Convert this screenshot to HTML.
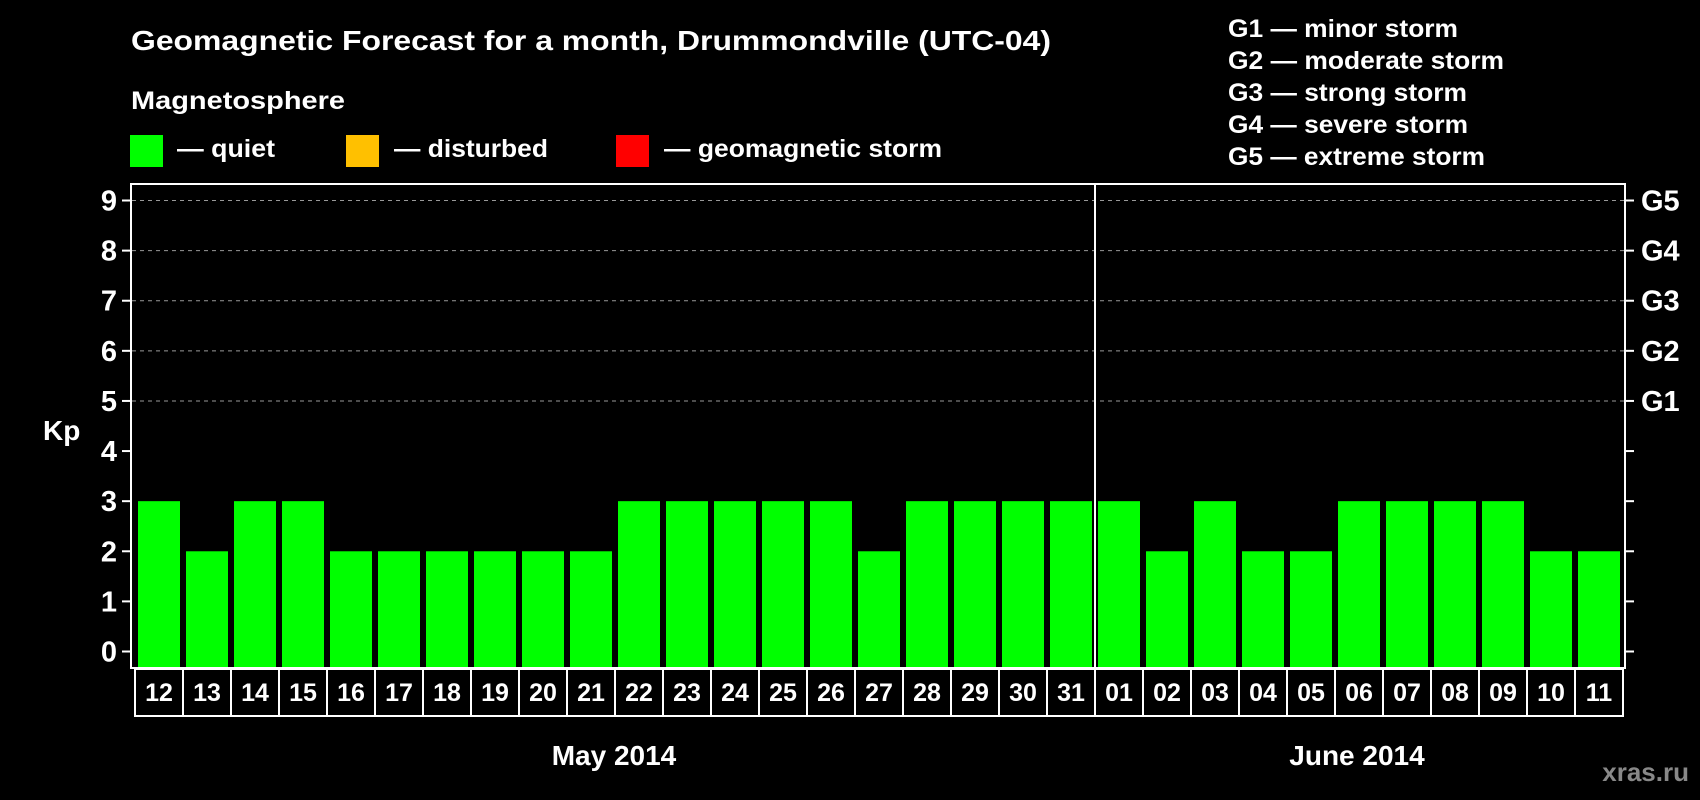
<!DOCTYPE html>
<html><head><meta charset="utf-8"><style>
html,body{margin:0;padding:0;background:#000;}
svg{display:block;font-family:"Liberation Sans",Arial,sans-serif;font-weight:bold;}
</style></head><body>
<svg id="chart" width="1700" height="800" viewBox="0 0 1700 800">
<rect x="0" y="0" width="1700" height="800" fill="#000"/>
<text x="131" y="50" fill="#fff" font-size="28" textLength="920" lengthAdjust="spacingAndGlyphs">Geomagnetic Forecast for a month, Drummondville (UTC-04)</text>
<text x="131" y="109" fill="#fff" font-size="25" textLength="214" lengthAdjust="spacingAndGlyphs">Magnetosphere</text>
<g><rect x="130" y="135" width="33" height="32" fill="#00ff00"/><text x="177" y="157" fill="#fff" font-size="25" textLength="98" lengthAdjust="spacingAndGlyphs">— quiet</text></g>
<g><rect x="346" y="135" width="33" height="32" fill="#ffc000"/><text x="394" y="157" fill="#fff" font-size="25" textLength="154" lengthAdjust="spacingAndGlyphs">— disturbed</text></g>
<g><rect x="616" y="135" width="33" height="32" fill="#ff0000"/><text x="664" y="157" fill="#fff" font-size="25" textLength="278" lengthAdjust="spacingAndGlyphs">— geomagnetic storm</text></g>
<g fill="#fff" font-size="25">
<text x="1228" y="37" textLength="230" lengthAdjust="spacingAndGlyphs">G1 — minor storm</text>
<text x="1228" y="69" textLength="276" lengthAdjust="spacingAndGlyphs">G2 — moderate storm</text>
<text x="1228" y="101" textLength="239" lengthAdjust="spacingAndGlyphs">G3 — strong storm</text>
<text x="1228" y="133" textLength="240" lengthAdjust="spacingAndGlyphs">G4 — severe storm</text>
<text x="1228" y="165" textLength="257" lengthAdjust="spacingAndGlyphs">G5 — extreme storm</text>
</g>
<g id="grid"></g>
<g id="bars"></g>
<rect x="131" y="184" width="1494" height="484" fill="none" stroke="#fff" stroke-width="2"/>
<g id="axes"></g>
<text x="43" y="440" fill="#fff" font-size="28">Kp</text>
<text x="614" y="765" fill="#fff" font-size="28" text-anchor="middle">May 2014</text>
<text x="1357" y="765" fill="#fff" font-size="28" text-anchor="middle">June 2014</text>
<text x="1689" y="781" fill="#888" font-size="26" text-anchor="end">xras.ru</text>
</svg>
<script>
const days = ["12","13","14","15","16","17","18","19","20","21","22","23","24","25","26","27","28","29","30","31","01","02","03","04","05","06","07","08","09","10","11"];
const kpValues = [3,2,3,3,2,2,2,2,2,2,3,3,3,3,3,2,3,3,3,3,3,2,3,2,2,3,3,3,3,2,2];
const yTicks = [0,1,2,3,4,5,6,7,8,9];
const gLabels = ["","","","","","G1","G2","G3","G4","G5"];
const NS="http://www.w3.org/2000/svg";
const y0=651.5, y9=200.5;
function yS(v){return y0-(v/9)*(y0-y9);}
const left=131, pitch=48;
function xS(i){return left+7+i*pitch;}
function mk(t,a,p){const e=document.createElementNS(NS,t);for(const k in a)e.setAttribute(k,a[k]);p.appendChild(e);return e;}
const grid=document.getElementById('grid'),bars=document.getElementById('bars'),axes=document.getElementById('axes');
yTicks.forEach((v,i)=>{
  const y=yS(v);
  if(v>=5){const l=mk('line',{x1:132,x2:1624,y1:y,y2:y,stroke:'#999','stroke-width':1,'stroke-dasharray':'4,4'},grid);
    
    }
  const t1=mk('line',{x1:122,x2:131,y1:y,y2:y,stroke:'#fff','stroke-width':2},axes);
  
  
  const t2=mk('line',{x1:1625,x2:1634,y1:y,y2:y,stroke:'#fff','stroke-width':2},axes);
  
  
  const lb=mk('text',{x:117,y:y+10,fill:'#fff','font-size':29,'text-anchor':'end'},axes);lb.textContent=v;
  
  
  if(gLabels[i]){const g=mk('text',{x:1641,y:y+10,fill:'#fff','font-size':29},axes);g.textContent=gLabels[i];
    
    }
});
kpValues.forEach((v,i)=>{
  const c=v>=5?'#ff0000':(v>=4?'#ffc000':'#00ff00');
  const r=mk('rect',{x:xS(i),y:yS(v),width:42,height:667-yS(v),fill:c},bars);
  
  
});
days.forEach((d,i)=>{
  const x=135+i*pitch;
  const c=mk('rect',{x:x,y:669,width:48,height:47,fill:'none',stroke:'#fff','stroke-width':2},axes);
  
  
  const t=mk('text',{x:x+24,y:701,fill:'#fff','font-size':25,'text-anchor':'middle'},axes);t.textContent=d;
  
  
});
const idx=days.indexOf("01");
const dx=xS(idx)-3;
const dl=mk('line',{x1:dx,x2:dx,y1:184,y2:668,stroke:'#fff','stroke-width':2},axes);


</script>
</body></html>
